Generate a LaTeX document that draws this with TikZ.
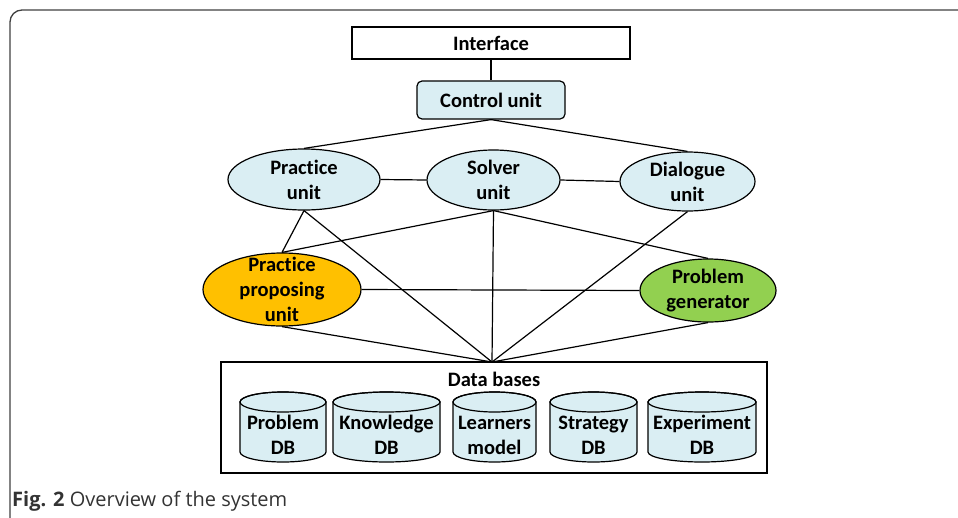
\documentclass[tikz,border=0pt]{standalone}
\usepackage{fontspec}
\setmainfont[Ligatures=NoCommon]{Carlito}
\newfontfamily\capfont{Open Sans}
\usetikzlibrary{shapes.geometric}
\definecolor{lblue}{HTML}{DAEEF3}
\definecolor{porange}{HTML}{FFC000}
\definecolor{pgreen}{HTML}{92D050}
\tikzset{
  lbl/.style={font=\fontsize{20.5}{25}\selectfont\bfseries, align=center, inner sep=0pt},
  unitell/.style={ellipse, draw, line width=1.2pt, inner sep=0pt},
  conn/.style={draw, line width=1.2pt},
  cyl/.style={draw, line width=1.2pt, fill=lblue},
}
\newcommand{\dbcyl}[4]{%
  % #1 left x, #2 right x, #3 name, #4 text
  \pgfmathsetmacro{\rxx}{(#2-#1)/2}
  \pgfmathsetmacro{\cxx}{(#1+#2)/2}
  \path[cyl] (#1,402) -- (#1,452) arc[start angle=180, end angle=360, x radius=\rxx pt, y radius=10pt]
     -- (#2,402) arc[start angle=0, end angle=180, x radius=\rxx pt, y radius=10pt] -- cycle;
  \draw[line width=1.2pt] (\cxx,402) ellipse[x radius=\rxx pt, y radius=10pt];
  \node[lbl] (#3) at (\cxx,435) {#4};
}
\begin{document}
\begin{tikzpicture}[x=1pt,y=-1pt]
\useasboundingbox (0,0) rectangle (958,517);
% outer frame
\draw[line width=1.3pt, black!75] (10,530) -- (10,22) arc[start angle=180, end angle=90, radius=12pt] -- (970,10);

\node[draw, line width=1.2pt, minimum width=278pt, minimum height=32pt, lbl] (interface) at (491,43) {Interface};
\node[draw, line width=1.2pt, rounded corners=5pt, fill=lblue, minimum width=148pt, minimum height=38pt, lbl] (control) at (491,100) {Control unit};

\node[unitell, fill=lblue, minimum width=152pt, minimum height=61pt] (practice) at (304,179.5) {};
\node[lbl] (practicet) at (practice) {Practice\\unit};
\node[unitell, fill=lblue, minimum width=133pt, minimum height=60pt] (solver) at (493.5,180) {};
\node[lbl] (solvert) at (solver) {Solver\\unit};
\node[unitell, fill=lblue, minimum width=135pt, minimum height=59pt] (dialogue) at (687.5,181.5) {};
\node[lbl] (dialoguet) at (dialogue) {Dialogue\\unit};
\node[unitell, fill=porange, minimum width=158pt, minimum height=73pt] (proposing) at (282,289.5) {};
\node[lbl] (proposingt) at (proposing) {Practice\\proposing\\unit};
\node[unitell, fill=pgreen, minimum width=136pt, minimum height=63pt] (generator) at (708,290.5) {};
\node[lbl] (generatort) at (generator) {Problem\\generator};

\node[draw, line width=1.2pt, minimum width=546pt, minimum height=111pt, inner sep=0pt] (dbbox) at (494,417.5) {};
\node[lbl] (dblabel) at (494,379) {Data bases};
\coordinate (hub) at (492,362);

\dbcyl{240}{326}{probdb}{Problem\\DB}
\dbcyl{333}{440}{knowdb}{Knowledge\\DB}
\dbcyl{453}{536}{learndb}{Learners\\model}
\dbcyl{550}{637}{stratdb}{Strategy\\DB}
\dbcyl{648}{756}{expdb}{Experiment\\DB}

\path[conn] (interface.south) -- (control.north);
\path[conn] (control.south) -- (practice.north);
\path[conn] (control.south) -- (dialogue.north);
\path[conn] (practice.east) -- (solver.west);
\path[conn] (solver.east) -- (dialogue.west);
\path[conn] (practice.south) -- (proposing.north);
\path[conn] (practice.south) -- (hub);
\path[conn] (solver.south) -- (proposing.north);
\path[conn] (solver.south) -- (hub);
\path[conn] (solver.south) -- (generator.north);
\path[conn] (dialogue.south) -- (hub);
\path[conn] (proposing.east) -- (generator.west);
\path[conn] (proposing.south) -- (hub);
\path[conn] (generator.south) -- (hub);

\node[anchor=base west, inner sep=0pt, font=\capfont\fontsize{20}{22}\selectfont, text=black!80] (caption) at (12,506) {\textbf{Fig. 2} Overview of the system};
\end{tikzpicture}
\end{document}
